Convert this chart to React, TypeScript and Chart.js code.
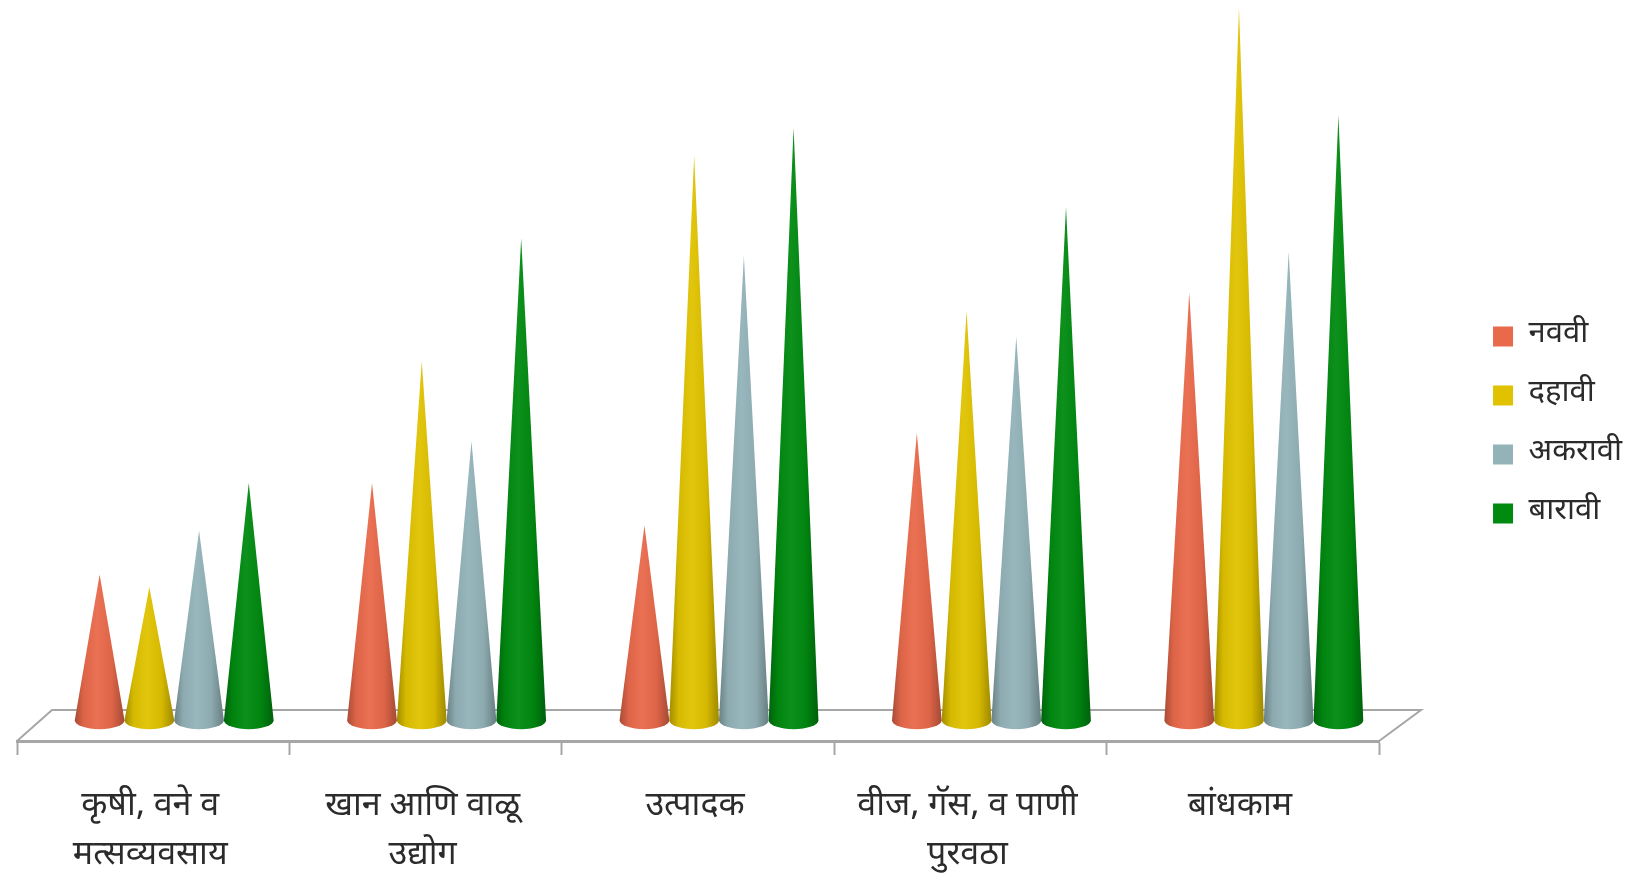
import React, { useEffect, useRef } from "react";
import { Chart, registerables } from "chart.js";

Chart.register(...registerables);

const categories = [
  ["कृषी, वने व", "मत्सव्यवसाय"],
  ["खान आणि वाळू", "उद्योग"],
  "उत्पादक",
  ["वीज, गॅस, व पाणी", "पुरवठा"],
  "बांधकाम",
];
const seriesNames = ["नववी", "दहावी", "अकरावी", "बारावी"];
const navvi = [7.0, 11.4, 9.35, 13.8, 20.55];
const dahavi = [6.4, 17.25, 27.1, 19.65, 34.2];
const akaravi = [9.1, 13.4, 22.3, 18.45, 22.5];
const baravi = [11.4, 23.15, 28.45, 24.65, 29.05];
const seriesValues = [navvi, dahavi, akaravi, baravi];
const seriesColors = ["#E9694B", "#E0C200", "#93B3B8", "#008A10"];

const FONT = '"Noto Sans Devanagari", "Lohit Devanagari", "Noto Sans", "DejaVu Sans", serif';
const AXIS = "#A6A6A6";

function shade(hex: string, f: number) {
  const n = parseInt(hex.slice(1), 16);
  const c = [(n >> 16) & 255, (n >> 8) & 255, n & 255].map((v) =>
    Math.round(f < 1 ? v * f : v + (255 - v) * (f - 1))
  );
  return `rgb(${c[0]},${c[1]},${c[2]})`;
}

const depthX = 21;

const conePlugin = {
  id: "cones",
  afterLayout(chart: any) {
    if (chart.legend) chart.legend.bottom -= 26;
  },
  beforeDatasetsDraw(chart: any) {
    const { ctx, chartArea } = chart;
    const front = chartArea.bottom;
    const back = front - 31;
    ctx.save();
    ctx.strokeStyle = AXIS;
    ctx.lineWidth = 2;
    ctx.beginPath();
    ctx.moveTo(chartArea.left, front);
    ctx.lineTo(chartArea.left + 35, back);
    ctx.lineTo(chartArea.right + 42, back);
    ctx.lineTo(chartArea.right, front);
    ctx.stroke();
    ctx.restore();
  },
  beforeDatasetDraw(chart: any, args: any) {
    const { ctx } = chart;
    const color = chart.data.datasets[args.index].backgroundColor as string;
    const meta = args.meta;
    for (const bar of meta.data) {
      const p = bar.getProps(["x", "y", "base", "width"], true);
      const cx = p.x + depthX;
      const r = p.width / 2;
      const ry = 9;
      const g = ctx.createLinearGradient(cx - r, 0, cx + r, 0);
      g.addColorStop(0, shade(color, 0.72));
      g.addColorStop(0.18, shade(color, 0.95));
      g.addColorStop(0.45, shade(color, 1.05));
      g.addColorStop(0.75, shade(color, 0.95));
      g.addColorStop(1, shade(color, 0.7));
      ctx.save();
      ctx.fillStyle = g;
      ctx.beginPath();
      ctx.moveTo(cx, p.y);
      ctx.lineTo(cx + r, p.base);
      ctx.ellipse(cx, p.base, r, ry, 0, 0, Math.PI);
      ctx.lineTo(cx, p.y);
      ctx.closePath();
      ctx.fill();
      ctx.restore();
    }
    return false;
  },
};

export default function App() {
  const ref = useRef<HTMLCanvasElement>(null);
  useEffect(() => {
    const chart = new Chart(ref.current as HTMLCanvasElement, {
      type: "bar",
      plugins: [conePlugin],
      data: {
        labels: categories as any,
        datasets: seriesNames.map((name, i) => ({
          label: name,
          data: seriesValues[i],
          backgroundColor: seriesColors[i],
          categoryPercentage: 0.73,
          barPercentage: 1,
        })),
      },
      options: {
        responsive: false,
        animation: false,
        layout: { padding: { left: 17, right: 4, top: 0, bottom: 0 } },
        plugins: {
          title: { display: false },
          tooltip: { enabled: false },
          legend: {
            position: "right",
            align: "center",
            labels: {
              boxWidth: 20,
              boxHeight: 20,
              padding: 28,
              color: "#2B2B2B",
              font: { family: FONT, size: 31 },
            },
          },
        },
        scales: {
          x: {
            offset: true,
            afterFit(s: any) {
              s.height = 135;
            },
            border: { color: AXIS, width: 3 },
            grid: {
              display: true,
              drawOnChartArea: false,
              drawTicks: true,
              tickLength: 14,
              tickWidth: 2,
              tickColor: AXIS,
              offset: true,
            },
            ticks: {
              autoSkip: false,
              maxRotation: 0,
              minRotation: 0,
              padding: 29,
              labelOffset: -3,
              color: "#2B2B2B",
              font: { family: FONT, size: 34, lineHeight: 1.44 },
            },
          },
          y: {
            position: "right",
            min: -1.0,
            max: 34.6,
            afterFit(s: any) {
              s.width = 86;
            },
            border: { display: false },
            grid: { display: false },
            ticks: { display: false },
          },
        },
      } as any,
    });
    return () => chart.destroy();
  }, []);
  return (
    <div style={{ position: "absolute", left: 0, top: 0, width: 1636, height: 876, background: "#fff" }}>
      <canvas ref={ref} width={1636} height={876} style={{ display: "block", width: 1636, height: 876 }} />
    </div>
  );
}
